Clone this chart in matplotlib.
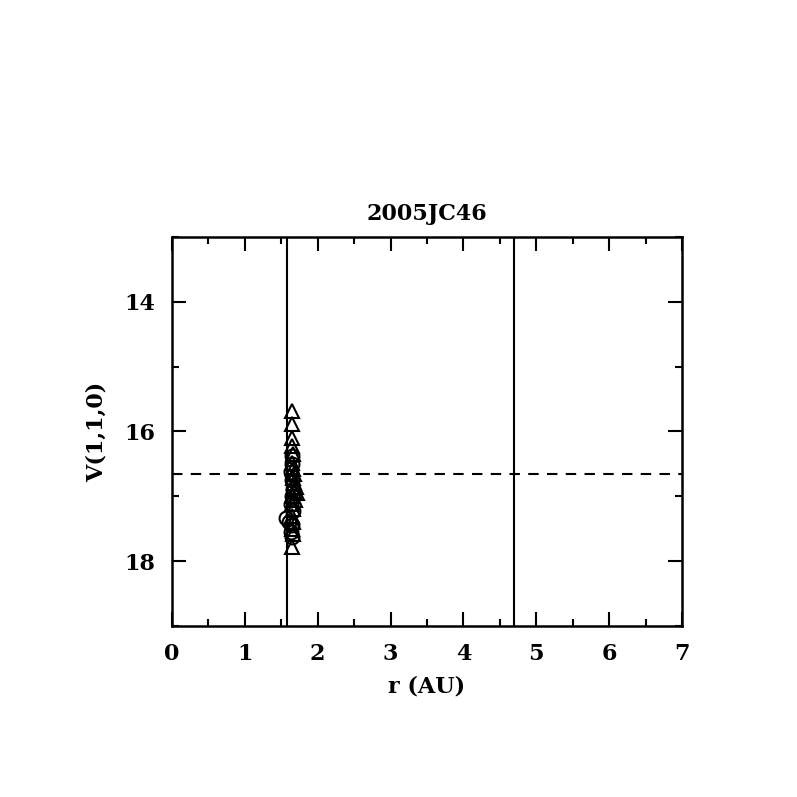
import matplotlib
matplotlib.use("Agg")
import matplotlib.pyplot as plt
from matplotlib.ticker import MultipleLocator

plt.rcParams['font.family'] = ['DejaVu Serif']

# observations: triangles
tri_r = [1.65, 1.65, 1.65, 1.65, 1.66, 1.65, 1.66, 1.67, 1.66, 1.68, 1.70,
         1.67, 1.72, 1.66, 1.69, 1.65, 1.66, 1.65, 1.66, 1.65, 1.66, 1.65]
tri_v = [15.68, 15.88, 16.10, 16.22, 16.35, 16.48, 16.58, 16.65, 16.72, 16.80, 16.85,
         16.92, 16.95, 17.00, 17.05, 17.12, 17.20, 17.30, 17.40, 17.50, 17.58, 17.78]

# observations: circles
circ_r = [1.65, 1.65, 1.64, 1.65, 1.66, 1.65, 1.64, 1.66, 1.57, 1.60, 1.65, 1.64, 1.65]
circ_v = [16.38, 16.50, 16.62, 16.75, 16.88, 17.00, 17.12, 17.22, 17.33, 17.40, 17.45, 17.55, 17.62]

perihelion = 1.578
aphelion = 4.695
v_mean = 16.66

fig = plt.figure(figsize=(7.97, 7.97), dpi=100)
ax = fig.add_axes([0.2158, 0.2146, 0.6399, 0.4880])

ax.plot(tri_r, tri_v, '^', ms=10, mfc='none', mec='k', mew=1.5)
ax.plot(circ_r, circ_v, 'o', ms=10, mfc='none', mec='k', mew=1.5)

ax.axvline(perihelion, color='k', lw=1.5)
ax.axvline(aphelion, color='k', lw=1.5)
ax.axhline(v_mean, color='k', lw=1.5, ls=(0, (5, 4)))

ax.set_xlim(0, 7)
ax.set_ylim(19, 13)
ax.xaxis.set_major_locator(MultipleLocator(1))
ax.xaxis.set_minor_locator(MultipleLocator(0.5))
ax.yaxis.set_major_locator(MultipleLocator(2))
ax.yaxis.set_minor_locator(MultipleLocator(1))
ax.tick_params(which='both', direction='in', top=True, right=True, width=1.5,
               labelsize=16)
ax.tick_params(which='major', length=10, pad=12)
ax.tick_params(which='minor', length=5)
for s in ax.spines.values():
    s.set_linewidth(1.8)
for lab in ax.get_xticklabels() + ax.get_yticklabels():
    lab.set_fontweight('semibold')

ax.set_xlabel('r (AU)', fontsize=16, fontweight='semibold', labelpad=8)
ax.set_ylabel('V(1,1,0)', fontsize=16, fontweight='semibold', labelpad=12)
ax.set_title('2005JC46', fontsize=16, fontweight='semibold', pad=12)

fig.savefig('out.png', dpi=100)
